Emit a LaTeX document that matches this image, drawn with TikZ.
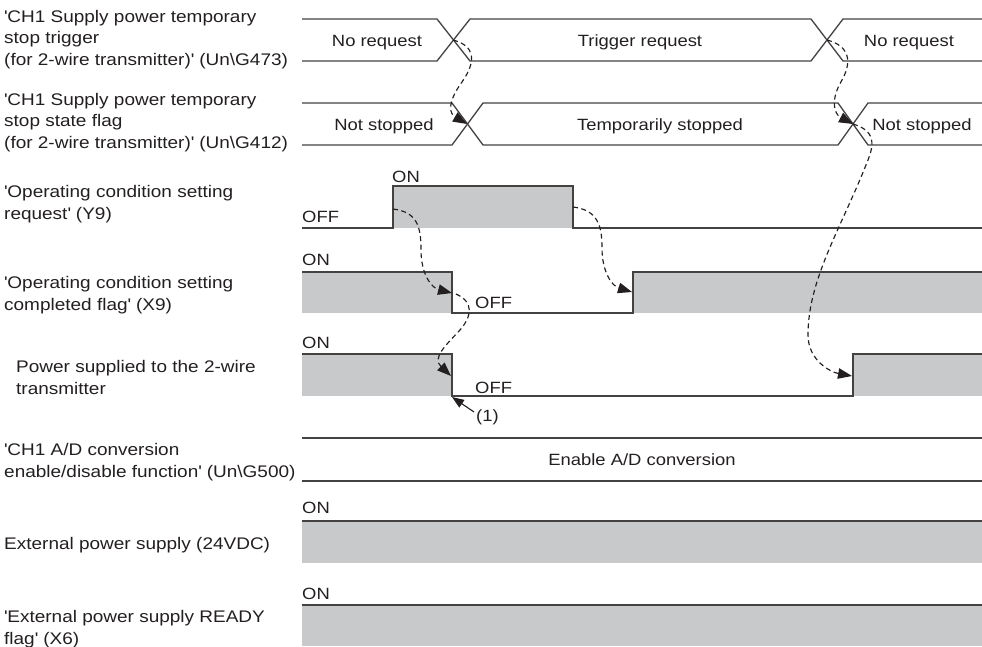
\documentclass[tikz,border=0pt]{standalone}
\usepackage{fontspec}
\setmainfont{Liberation Sans}[FakeStretch=1.13]
\usetikzlibrary{arrows.meta}
\definecolor{sigfill}{RGB}{200,201,203}
\definecolor{ink}{RGB}{35,31,32}
\newcommand{\qmark}{\textquotesingle}
\begin{document}
\begin{tikzpicture}[x=1pt,y=-1pt,
  every node/.style={font=\fontsize{16.3}{21}\selectfont, text=ink, inner sep=0pt},
  sig/.style={line width=1.3pt, draw=ink!85, line join=miter},
  lbl/.style={align=left, anchor=base west, font=\fontsize{16.8}{21.5}\selectfont},
  val/.style={anchor=base},
  lvl/.style={anchor=base west},
  dsh/.style={line width=1.15pt, draw=ink, dash pattern=on 5pt off 3.5pt, -{Triangle[length=14pt,width=10.5pt]}},
  pointer/.style={line width=1.1pt, draw=ink, -{Triangle[length=12pt,width=9pt]}}]
\useasboundingbox (0,0) rectangle (982,646);

% ---- fills
\fill[sigfill] (393,186) rectangle (573,228);
\fill[sigfill] (302,272) rectangle (452,313);
\fill[sigfill] (633,272) rectangle (982,313);
\fill[sigfill] (302,354) rectangle (452,396);
\fill[sigfill] (853,354) rectangle (982,396);
\fill[sigfill] (302,521) rectangle (982,563);
\fill[sigfill] (302,605) rectangle (982,646);

% ---- row 1 (Un\G473)
\draw[sig] (302,19) -- (437,19) -- (470,61) -- (811,61) -- (843,19) -- (982,19);
\draw[sig] (302,61) -- (437,61) -- (470,19) -- (811,19) -- (843,61) -- (982,61);
% ---- row 2 (Un\G412)
\draw[sig] (302,103) -- (452,103) -- (483,145) -- (838,145) -- (868,103) -- (982,103);
\draw[sig] (302,145) -- (452,145) -- (483,103) -- (838,103) -- (868,145) -- (982,145);
% ---- row 3 (Y9)
\draw[sig] (302,228) -- (393,228) -- (393,186) -- (573,186) -- (573,228) -- (982,228);
% ---- row 4 (X9)
\draw[sig] (302,272) -- (452,272) -- (452,313) -- (633,313) -- (633,272) -- (982,272);
% ---- row 5 (power)
\draw[sig] (302,354) -- (452,354) -- (452,396) -- (853,396) -- (853,354) -- (982,354);
% ---- row 6 (Un\G500)
\draw[sig] (302,438) -- (982,438);
\draw[sig] (302,481) -- (982,481);
% ---- row 7, 8
\draw[sig] (302,521) -- (982,521);
\draw[sig] (302,605) -- (982,605);

% ---- left labels (base = baseline of last line)
\node[lbl] (l1) at (4,65) {\qmark CH1 Supply power temporary\\stop trigger\\(for 2-wire transmitter)\qmark{} (Un\textbackslash G473)};
\node[lbl] (l2) at (4,148) {\qmark CH1 Supply power temporary\\stop state flag\\(for 2-wire transmitter)\qmark{} (Un\textbackslash G412)};
\node[lbl] (l3) at (4,219) {\qmark Operating condition setting\\request\qmark{} (Y9)};
\node[lbl] (l4) at (4,310) {\qmark Operating condition setting\\completed flag\qmark{} (X9)};
\node[lbl] (l5) at (16,394) {Power supplied to the 2-wire\\transmitter};
\node[lbl] (l6) at (4,477) {\qmark CH1 A/D conversion\\enable/disable function\qmark{} (Un\textbackslash G500)};
\node[lbl] (l7) at (4,549) {External power supply (24VDC)};
\node[lbl] (l8) at (4,644) {\qmark External power supply READY\\flag\qmark{} (X6)};

% ---- values
\node[val] (v1a) at (377,46) {No request};
\node[val] (v1b) at (640,46) {Trigger request};
\node[val] (v1c) at (909,46) {No request};
\node[val] (v2a) at (384,130) {Not stopped};
\node[val] (v2b) at (660,130) {Temporarily stopped};
\node[val] (v2c) at (922,130) {Not stopped};
\node[val] (v6) at (642,465) {Enable A/D conversion};

\node[lvl] (on3) at (392,182) {ON};
\node[lvl] (off3) at (302,222) {OFF};
\node[lvl] (on4) at (302,265) {ON};
\node[lvl] (off4) at (475,308) {OFF};
\node[lvl] (on5) at (302,348) {ON};
\node[lvl] (off5) at (475,393) {OFF};
\node[lvl] (on7) at (302,513) {ON};
\node[lvl] (on8) at (302,599) {ON};
\node[lvl] (one) at (476,421) {(1)};

% ---- reference points
\coordinate (x1a) at (453,40);
\coordinate (x2a) at (467,124);
\coordinate (x1b) at (827,40);
\coordinate (x2b) at (853,124);
\coordinate (r3up) at (393,209);
\coordinate (r3dn) at (573,207);
\coordinate (r4dn) at (452,293);
\coordinate (r4dns) at (456,294);
\coordinate (r4up) at (632,292);
\coordinate (r5dn) at (451,376);
\coordinate (r5up) at (852,376);
\coordinate (corner) at (452,397);
\coordinate (onetail) at (474,412);

% ---- dashed causal arrows
\draw[dsh] (x1a) .. controls (476,46) and (476,62) .. (462,82)
               .. controls (446,104) and (450,114) .. (x2a);
\draw[dsh] (x1b) .. controls (850,46) and (852,62) .. (842,80)
               .. controls (830,100) and (834,114) .. (x2b);
\draw[dsh] (x2b) .. controls (880,132) and (872,150) .. (866,165)
               .. controls (840,230) and (808,280) .. (808,335)
               .. controls (808,360) and (830,372) .. (r5up);
\draw[dsh] (r3up) .. controls (418,212) and (421,228) .. (421,250)
                .. controls (421,275) and (432,288) .. (r4dn);
\draw[dsh] (r3dn) .. controls (598,210) and (602,226) .. (602,248)
                .. controls (602,272) and (612,286) .. (r4up);
\draw[dsh] (r4dns) .. controls (474,302) and (472,316) .. (460,330)
                .. controls (445,346) and (432,358) .. (r5dn);
\draw[pointer] (onetail) -- (corner);
\end{tikzpicture}
\end{document}
